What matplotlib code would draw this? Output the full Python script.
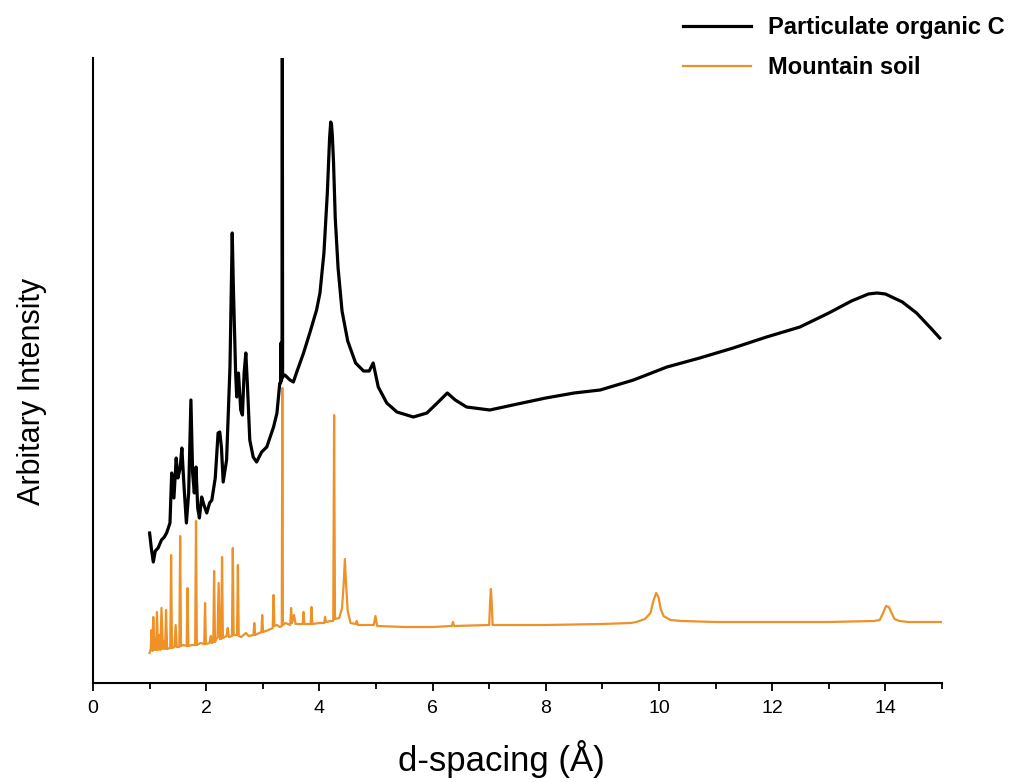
import matplotlib
matplotlib.use("Agg")
import matplotlib.pyplot as plt
from matplotlib.ticker import MultipleLocator

plt.rcParams['font.family'] = ['Liberation Sans', 'DejaVu Sans']

# ---- data (arbitrary intensity units) ----
poc_x = [1.00, 1.03, 1.065, 1.10, 1.15, 1.21, 1.26, 1.30, 1.36, 1.39, 1.43, 1.47, 1.50, 1.54, 1.57,
         1.61, 1.65, 1.69, 1.73, 1.76, 1.79, 1.82, 1.85, 1.88, 1.92, 1.96, 2.01, 2.06, 2.10, 2.16,
         2.21, 2.24, 2.27, 2.30, 2.36, 2.42, 2.46, 2.48, 2.52, 2.54, 2.57, 2.61, 2.64, 2.67, 2.70,
         2.73, 2.77, 2.83, 2.89, 2.98, 3.07, 3.19, 3.25, 3.30, 3.315, 3.32, 3.325, 3.34, 3.345, 3.35,
         3.39, 3.48, 3.54, 3.60, 3.72, 3.83, 3.95, 4.01, 4.08, 4.14, 4.18, 4.20, 4.215, 4.23, 4.25,
         4.28, 4.33, 4.40, 4.50, 4.64, 4.78, 4.88, 4.95, 5.04, 5.19, 5.37, 5.66, 5.90, 6.10, 6.26,
         6.40, 6.60, 7.01, 7.5, 8.0, 8.5, 8.96, 9.55, 10.14, 10.72, 11.31, 11.90, 12.49, 13.0,
         13.4, 13.7, 13.85, 14.0, 14.3, 14.55, 14.8, 14.96]
poc_y = [150, 135, 121, 132, 135, 143, 146, 150, 160, 210, 185, 225, 205, 215, 235,
         195, 160, 190, 283, 210, 190, 216, 175, 165, 186, 178, 170, 180, 183, 205,
         250, 251, 235, 201, 223, 316, 450, 396, 310, 286, 310, 273, 268, 310, 330,
         296, 243, 226, 221, 231, 236, 256, 270, 300, 300, 340, 302, 305, 640, 306,
         308, 303, 301, 311, 330, 350, 373, 390, 430, 490, 545, 561, 558, 546, 520,
         465, 415, 372, 342, 320, 312, 312, 320, 296, 280, 271, 266, 270, 281, 290,
         283, 276, 273, 279, 285, 290, 293, 303, 316, 325, 335, 346, 356, 370,
         382, 389, 390, 389, 381, 370, 355, 345]

soil_x = [1.00, 1.02, 1.035, 1.05, 1.065, 1.085, 1.10, 1.115, 1.13, 1.15, 1.17, 1.19, 1.21, 1.235,
          1.26, 1.275, 1.29, 1.31, 1.365, 1.38, 1.395, 1.44, 1.46, 1.48, 1.525, 1.54, 1.555, 1.60,
          1.655, 1.67, 1.685, 1.75, 1.805, 1.82, 1.835, 1.90, 1.965, 1.98, 1.995, 2.06, 2.08, 2.10,
          2.125, 2.14, 2.155, 2.20, 2.22, 2.24, 2.265, 2.28, 2.295, 2.36, 2.38, 2.40, 2.455, 2.47,
          2.485, 2.545, 2.56, 2.575, 2.62, 2.70, 2.75, 2.835, 2.85, 2.865, 2.975, 2.99, 3.005, 3.10,
          3.175, 3.19, 3.205, 3.25, 3.30, 3.335, 3.345, 3.355, 3.40, 3.485, 3.50, 3.515, 3.55, 3.58,
          3.705, 3.72, 3.735, 3.845, 3.86, 3.875, 4.00, 4.085, 4.10, 4.115, 4.20, 4.245, 4.26, 4.275,
          4.35, 4.40, 4.43, 4.45, 4.47, 4.50, 4.55, 4.64, 4.66, 4.68, 4.85, 4.96, 4.99, 5.02, 5.5,
          6.0, 6.34, 6.36, 6.38, 7.00, 7.015, 7.03, 7.045, 7.06, 8.0, 9.0, 9.5, 9.6, 9.75, 9.85,
          9.90, 9.95, 9.99, 10.03, 10.08, 10.2, 10.4, 11.0, 12.0, 13.0, 13.8, 13.9, 13.96, 14.01,
          14.06, 14.11, 14.16, 14.25, 14.4, 15.0]
soil_y = [30, 34, 53, 32, 66, 33, 45, 33, 71, 33, 48, 33, 75, 34,
          42, 34, 73, 34, 35, 128, 35, 36, 58, 36, 36, 147, 37, 38,
          37, 95, 37, 38, 38, 162, 38, 40, 39, 80, 39, 40, 47, 40,
          41, 112, 41, 46, 100, 44, 44, 126, 45, 47, 55, 46, 47, 135,
          48, 48, 118, 47, 46, 50, 47, 48, 60, 48, 51, 68, 51, 53,
          55, 88, 57, 58, 56, 57, 295, 58, 60, 58, 75, 60, 68, 59,
          59, 71, 59, 59, 76, 59, 60, 60, 66, 61, 62, 62, 268, 64,
          65, 75, 100, 124, 100, 72, 60, 59, 62, 58, 58, 58, 67, 57, 56,
          56, 57, 61, 57, 58, 80, 94, 80, 58, 58, 59, 60, 61, 64, 70,
          82, 90, 86, 74, 67, 63, 62, 61, 61, 61, 62, 63, 70, 77,
          76, 70, 64, 62, 61, 61]

series_labels = ["Particulate organic C", "Mountain soil"]
x_ticks = [0, 2, 4, 6, 8, 10, 12, 14]

fig = plt.figure(figsize=(10.11, 7.82), dpi=100)
ax = fig.add_axes([93/1011, 1-683/782, (942-93)/1011, (683-58)/782])

l1, = ax.plot(poc_x, poc_y, color='black', lw=2.3, label=series_labels[0])
l2, = ax.plot(soil_x, soil_y, color='#EE9127', lw=1.6, label=series_labels[1])

ax.set_xlim(0, 15)
ax.set_ylim(0, 625)
ax.set_xticks(x_ticks)
ax.xaxis.set_minor_locator(MultipleLocator(1))
ax.set_yticks([])
for s in ['top', 'right']:
    ax.spines[s].set_visible(False)
ax.spines['left'].set_linewidth(1.5)
ax.spines['bottom'].set_linewidth(1.5)
ax.tick_params(axis='x', which='major', direction='out', length=6, width=1.3, labelsize=14, pad=6)
ax.tick_params(axis='x', which='minor', direction='out', length=4, width=1.3)

ax.set_xlabel("d-spacing (Å)", fontsize=25)
ax.xaxis.set_label_coords((501-93)/849, -0.121, transform=ax.transAxes)
ax.xaxis.label.set_va('center')
ax.set_ylabel("Arbitary Intensity", fontsize=22)
ax.yaxis.set_label_coords(-0.054, 0.467)

fig.legend(handles=[l1, l2], labels=series_labels, loc='upper left',
           bbox_to_anchor=(683/1011, 1-16/782), frameon=False,
           prop={'weight': 'bold', 'size': 17}, handlelength=2.9, handletextpad=0.7,
           labelspacing=0.72, borderpad=0, borderaxespad=0)

fig.savefig("out.png", dpi=100)
